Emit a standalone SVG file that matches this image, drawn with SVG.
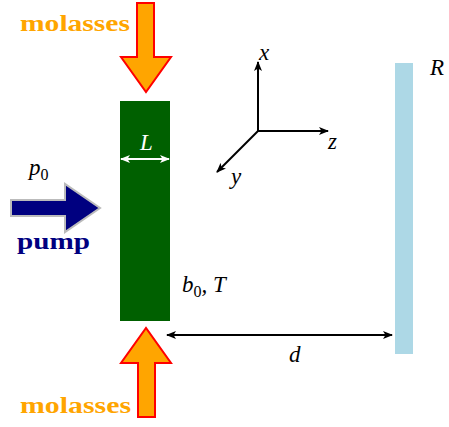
<svg xmlns="http://www.w3.org/2000/svg" width="449" height="427" viewBox="0 0 449 427">
<style>
.mol{font-weight:bold;font-size:24px;fill:#FFA500}
.m{font-style:italic;font-size:23px;fill:#000}
.sub{font-size:16px;font-style:normal}
.ax{stroke:#000;stroke-width:2;fill:none}
.blarrow{fill:#FFA500;stroke:#FF0000;stroke-width:2}
</style>
<defs>
<marker id="ah" viewBox="0 0 10 8" refX="9" refY="4" markerWidth="10" markerHeight="8" markerUnits="userSpaceOnUse" orient="auto-start-reverse">
<path d="M0,0 L10,4 L0,8 L2.5,4 Z" fill="#000"/>
</marker>
<marker id="aw" viewBox="0 0 10 8" refX="9" refY="4" markerWidth="10" markerHeight="8" markerUnits="userSpaceOnUse" orient="auto-start-reverse">
<path d="M0,0 L10,4 L0,8 L2.5,4 Z" fill="#FFF"/>
</marker>
</defs>
<g font-family="Liberation Serif, DejaVu Serif, serif">
<g id="cloud">
<rect x="120" y="101" width="50" height="220" fill="#006000"/>
<text class="m" x="182" y="292">b<tspan class="sub" dy="5">0</tspan><tspan dy="-5">, T</tspan></text>
</g>
<g id="mirror">
<rect x="395" y="63" width="18" height="291" fill="#ADD8E6"/>
<text class="m" x="430" y="75">R</text>
</g>
<g id="molasses-top">
<path class="blarrow" d="M137,3 L154,3 L154,57 L171,57 L146,92 L121,57 L137,57 Z"/>
<text class="mol" x="20" y="31" textLength="110" lengthAdjust="spacingAndGlyphs">molasses</text>
</g>
<g id="molasses-bottom">
<path class="blarrow" d="M138,417 L155,417 L155,363 L171,363 L146,328 L121,363 L138,363 Z"/>
<text class="mol" x="20" y="413" textLength="111" lengthAdjust="spacingAndGlyphs">molasses</text>
</g>
<g id="pump">
<path d="M11,200 L65,200 L65,184 L100,208 L65,232 L65,216 L11,216 Z" fill="#000080" stroke="#BBBBBB" stroke-width="2"/>
<text class="m" x="29" y="175">p<tspan class="sub" dy="5">0</tspan></text>
<text class="mol" x="17" y="249" style="fill:#000080" textLength="73" lengthAdjust="spacingAndGlyphs">pump</text>
</g>
<g id="axes">
<line class="ax" x1="258" y1="131" x2="258" y2="62" marker-end="url(#ah)"/>
<line class="ax" x1="258" y1="131" x2="328" y2="131" marker-end="url(#ah)"/>
<line class="ax" x1="258" y1="131" x2="217" y2="172" marker-end="url(#ah)"/>
<text class="m" x="259" y="60">x</text>
<text class="m" x="328" y="149">z</text>
<text class="m" x="231" y="184">y</text>
</g>
<g id="connectors">
<line x1="121" y1="159" x2="169" y2="159" stroke="#FFF" stroke-width="2" marker-start="url(#aw)" marker-end="url(#aw)"/>
<text class="m" x="140" y="150" style="fill:#FFF">L</text>
<line x1="167" y1="335" x2="392" y2="335" stroke="#000" stroke-width="2" marker-start="url(#ah)" marker-end="url(#ah)"/>
<text class="m" x="289" y="362">d</text>
</g>
</g>
</svg>
